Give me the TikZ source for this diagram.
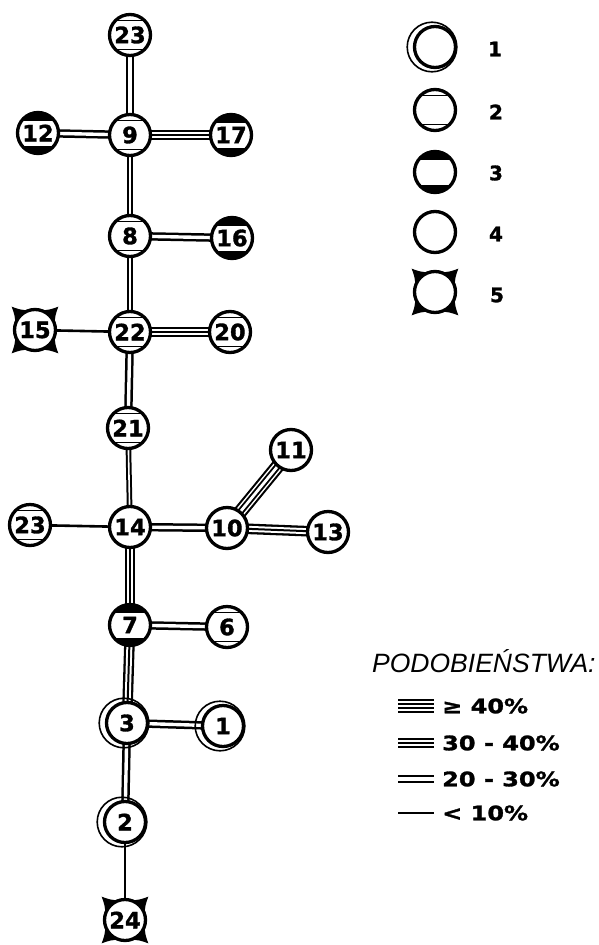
\documentclass[tikz,border=0pt]{standalone}
\usepackage{fontspec}
\setmainfont{Liberation Sans}
\newfontfamily\heavyfont[FakeBold=1.4]{DejaVu Sans Bold}
\newfontfamily\wideheavy[FakeBold=1.4,FakeStretch=1.2]{DejaVu Sans Bold}
\usetikzlibrary{calc,backgrounds}
\tikzset{
  nd/.style={circle, draw, line width=3.3pt, fill=white, minimum size=41pt, inner sep=0pt,
    font=\heavyfont\fontsize{22.5}{22.5}\selectfont},
  tA/.style={nd},
  tB/.style={nd, path picture={
    \draw[black, line width=1.6pt] ([yshift=-6pt]path picture bounding box.north west) -- ([yshift=-6pt]path picture bounding box.north east);
    \draw[black, line width=1.6pt] ([yshift=6pt]path picture bounding box.south west) -- ([yshift=6pt]path picture bounding box.south east);}},
  tC/.style={nd, path picture={
    \fill[black] ([yshift=-8pt]path picture bounding box.north west) rectangle (path picture bounding box.north east);
    \fill[black] ([yshift=8pt]path picture bounding box.south west) rectangle (path picture bounding box.south east);}},
  tD/.style={nd},
  tE/.style={nd},
  ringline/.style={line width=1.6pt},
  eone/.style={line width=2.6pt},
  enarrow/.style={line width=2pt, double=white, double distance=1.6pt},
  etwo/.style={line width=2.5pt, double=white, double distance=3.4pt},
  ethreeo/.style={line width=2.3pt, double=white, double distance=6pt},
  ethreei/.style={line width=2pt},
  efouro/.style={line width=2.1pt, double=white, double distance=9.6pt},
  efouri/.style={line width=1.9pt, double=white, double distance=2.8pt},
  lab/.style={font=\heavyfont\fontsize{20}{20}\selectfont, inner sep=0pt},
  legtext/.style={anchor=west, inner sep=0pt, font=\wideheavy\fontsize{20}{20}\selectfont},
  ttl/.style={anchor=base west, inner sep=0pt, font=\itshape\fontsize{26.5}{26.5}\selectfont}
}
\newcommand\eS[2]{\draw[eone] (#1.center) -- (#2.center);}
\newcommand\eN[2]{\draw[enarrow] (#1.center) -- (#2.center);}
\newcommand\eD[2]{\draw[etwo] (#1.center) -- (#2.center);}
\newcommand\eT[2]{\draw[ethreeo] (#1.center) -- (#2.center); \draw[ethreei] (#1.center) -- (#2.center);}
\newcommand\eQ[2]{\draw[efouro] (#1.center) -- (#2.center); \draw[efouri] (#1.center) -- (#2.center);}
\newcommand\ringA[1]{\draw[ringline] ([xshift=-3pt]#1.center) circle[radius=24.8pt];}
\newcommand\hornsE[1]{\foreach \a in {45,135,225,315}{
  \fill ($(#1.center)+(\a-32:20pt)$) .. controls ($(#1.center)+(\a-9:25pt)$) .. ($(#1.center)+(\a:33pt)$)
     .. controls ($(#1.center)+(\a+9:25pt)$) .. ($(#1.center)+(\a+32:20pt)$) -- cycle;}}
\begin{document}
\begin{tikzpicture}[x=1pt,y=-1pt]
\useasboundingbox (0,0) rectangle (598,945);
% tree nodes
\node[tB] (n23a) at (130,35) {23};
\node[tB] (n9)  at (130,135) {9};
\node[tC] (n12) at (38,133) {12};
\node[tC] (n17) at (231,135) {17};
\node[tB] (n8)  at (130,236) {8};
\node[tC] (n16) at (232,238) {16};
\node[tB] (n22) at (130,332) {22};
\node[tE] (n15) at (35,330) {15};
\node[tB] (n20) at (230,332) {20};
\node[tB] (n21) at (128,428) {21};
\node[tD] (n14) at (130,527) {14};
\node[tB] (n23b) at (30,525) {23};
\node[tD] (n10) at (227,528) {10};
\node[tD] (n11) at (291,450) {11};
\node[tD] (n13) at (328,532) {13};
\node[tC] (n7)  at (130,625) {7};
\node[tB] (n6)  at (227,627) {6};
\node[tA] (n3)  at (127,723) {3};
\node[tA] (n1)  at (223,726) {1};
\node[tA] (n2)  at (125,822) {2};
\node[tE] (n24) at (125,920) {24};
% legend symbols
\node[tA] (s1) at (435,47) {};
\node[tB] (s2) at (435,110) {};
\node[tC] (s3) at (435,172) {};
\node[tD] (s4) at (435,232) {};
\node[tE] (s5) at (435,292) {};
\node[lab] (l1) at (495,49) {1};
\node[lab] (l2) at (496,112) {2};
\node[lab] (l3) at (496,173) {3};
\node[lab] (l4) at (496,234) {4};
\node[lab] (l5) at (497,295) {5};
\ringA{n3}\ringA{n1}\ringA{n2}\ringA{s1}
% similarity legend
\node[ttl] (title) at (372,672) {PODOBIEŃSTWA:};
\coordinate (q1a) at (398,706); \coordinate (q1b) at (434,706);
\coordinate (q2a) at (398,743); \coordinate (q2b) at (434,743);
\coordinate (q3a) at (398,779); \coordinate (q3b) at (434,779);
\coordinate (q4a) at (398,813); \coordinate (q4b) at (434,813);
\node[legtext] (t1) at (442,706) {≥ 40\%};
\node[legtext] (t2) at (442,743) {30 - 40\%};
\node[legtext] (t3) at (442,779) {20 - 30\%};
\node[legtext] (t4) at (442,813) {< 10\%};
\begin{pgfonlayer}{background}
\eD{n23a}{n9}
\eD{n12}{n9}
\eT{n9}{n17}
\eN{n9}{n8}
\eD{n8}{n16}
\eN{n8}{n22}
\eS{n15}{n22}
\eT{n22}{n20}
\eD{n22}{n21}
\eN{n21}{n14}
\eS{n23b}{n14}
\eD{n14}{n10}
\eQ{n10}{n11}
\eT{n10}{n13}
\eT{n14}{n7}
\eD{n7}{n6}
\eT{n7}{n3}
\eD{n3}{n1}
\eD{n3}{n2}
\eS{n2}{n24}
\hornsE{n15}\hornsE{n24}\hornsE{s5}
\eQ{q1a}{q1b}
\eT{q2a}{q2b}
\eD{q3a}{q3b}
\eS{q4a}{q4b}
\end{pgfonlayer}
\end{tikzpicture}
\end{document}
